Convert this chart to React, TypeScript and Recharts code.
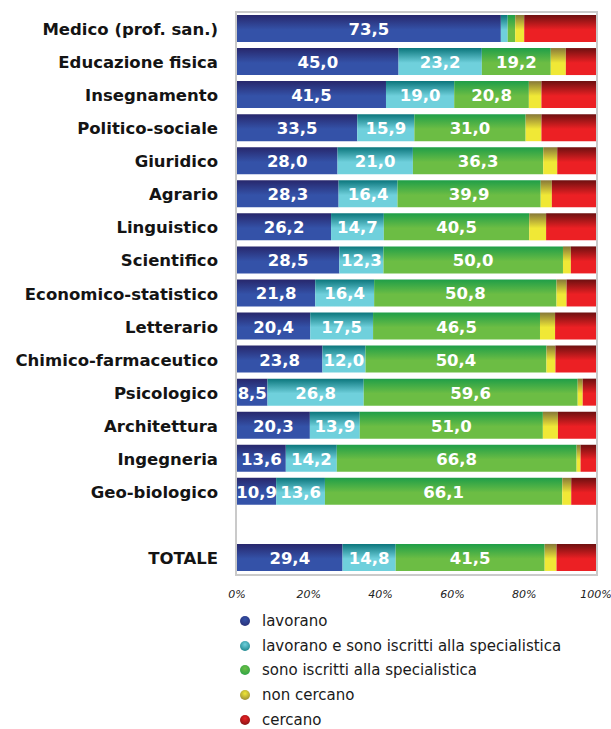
import { BarChart, Bar, XAxis, YAxis, LabelList } from 'recharts'

const categories = [
  'Medico (prof. san.)',
  'Educazione fisica',
  'Insegnamento',
  'Politico-sociale',
  'Giuridico',
  'Agrario',
  'Linguistico',
  'Scientifico',
  'Economico-statistico',
  'Letterario',
  'Chimico-farmaceutico',
  'Psicologico',
  'Architettura',
  'Ingegneria',
  'Geo-biologico',
  '',
  'TOTALE',
]

const lavorano = [73.5, 45.0, 41.5, 33.5, 28.0, 28.3, 26.2, 28.5, 21.8, 20.4, 23.8, 8.5, 20.3, 13.6, 10.9, null, 29.4]
const lavoranoIscritti = [1.9, 23.2, 19.0, 15.9, 21.0, 16.4, 14.7, 12.3, 16.4, 17.5, 12.0, 26.8, 13.9, 14.2, 13.6, null, 14.8]
const iscritti = [2.1, 19.2, 20.8, 31.0, 36.3, 39.9, 40.5, 50.0, 50.8, 46.5, 50.4, 59.6, 51.0, 66.8, 66.1, null, 41.5]
const nonCercano = [2.5, 4.2, 3.5, 4.4, 3.9, 3.1, 4.7, 2.2, 2.8, 4.2, 2.5, 1.4, 4.2, 1.1, 2.5, null, 3.3]
const cercano = [20.0, 8.4, 15.2, 15.2, 10.8, 12.3, 13.9, 7.0, 8.2, 11.4, 11.3, 3.7, 10.6, 4.3, 6.9, null, 11.0]

const xTicks = [0, 20, 40, 60, 80, 100]

const series = [
  { key: 'lavorano', name: 'lavorano', top: '#27276c', bottom: '#3452a8', labelled: true },
  { key: 'lavoranoIscritti', name: 'lavorano e sono iscritti alla specialistica', top: '#0b767c', bottom: '#6fd0dc', labelled: true },
  { key: 'iscritti', name: 'sono iscritti alla specialistica', top: '#1f9e48', bottom: '#6cbd44', labelled: true },
  { key: 'nonCercano', name: 'non cercano', top: '#877838', bottom: '#f0e836', labelled: false },
  { key: 'cercano', name: 'cercano', top: '#6e1010', bottom: '#ec2024', labelled: false },
]

const data = categories.map((name, i) => ({
  name,
  lavorano: lavorano[i],
  lavoranoIscritti: lavoranoIscritti[i],
  iscritti: iscritti[i],
  nonCercano: nonCercano[i],
  cercano: cercano[i],
}))

const FONT = '"DejaVu Sans", Verdana, sans-serif'

function CategoryTick({ x, y, payload }: any) {
  return (
    <text x={x - 11} y={y + 1} textAnchor="end" dominantBaseline="central" fontFamily={FONT} fontWeight="bold" fontSize={16.5} fill="#141414">
      {payload.value}
    </text>
  )
}

function ValueLabel({ x, y, width, height, value }: any) {
  if (value == null || width < 22) return null
  return (
    <text x={x + width / 2} y={y + height / 2 + 1} textAnchor="middle" dominantBaseline="central" fontFamily={FONT} fontWeight="bold" fontSize={16.5} fill="#fff">
      {Number(value).toFixed(1).replace('.', ',')}
    </text>
  )
}

export default function App() {
  return (
    <div style={{ position: 'absolute', left: 0, top: 0, width: 611, height: 729, background: '#fff', overflow: 'hidden' }}>
      <div style={{ position: 'absolute', left: 235, top: 11, width: 359, height: 561, border: '2px solid #cacaca' }} />
      <div style={{ position: 'absolute', left: 0, top: 0 }}>
        <BarChart
          width={611}
          height={605}
          data={data}
          layout="vertical"
          margin={{ top: 12, right: 15, left: 0, bottom: 0 }}
          barSize={27}
        >
          <defs>
            {series.map((s) => (
              <linearGradient key={s.key} id={`g-${s.key}`} x1="0" y1="0" x2="0" y2="1">
                <stop offset="0%" stopColor={s.top} />
                <stop offset="55%" stopColor={s.bottom} />
                <stop offset="100%" stopColor={s.bottom} />
              </linearGradient>
            ))}
          </defs>
          <XAxis
            type="number"
            domain={[0, 100]}
            ticks={xTicks}
            tickFormatter={(v) => `${v}%`}
            axisLine={false}
            tickLine={false}
            height={31}
            tickMargin={10}
            tick={{ fontFamily: FONT, fontStyle: 'italic', fontSize: 11, fill: '#222' }}
            interval={0}
          />
          <YAxis type="category" dataKey="name" width={237} axisLine={false} tickLine={false} tick={<CategoryTick />} interval={0} />
          {series.map((s) => (
            <Bar key={s.key} dataKey={s.key} name={s.name} stackId="a" fill={`url(#g-${s.key})`} isAnimationActive={false}>
              {s.labelled && <LabelList dataKey={s.key} content={<ValueLabel />} />}
            </Bar>
          ))}
        </BarChart>
      </div>
      <div style={{ position: 'absolute', left: 240, top: 609, fontFamily: FONT, fontSize: 15, lineHeight: '16px', color: '#1a1a1a' }}>
        {series.map((s) => (
          <div key={s.key} style={{ display: 'flex', alignItems: 'center', height: 24.6 }}>
            <div
              style={{
                width: 10,
                height: 10,
                borderRadius: '50%',
                background: `radial-gradient(circle at 50% 35%, ${s.bottom}, ${s.top})`,
                marginRight: 12,
              }}
            />
            <span>{s.name}</span>
          </div>
        ))}
      </div>
    </div>
  )
}
